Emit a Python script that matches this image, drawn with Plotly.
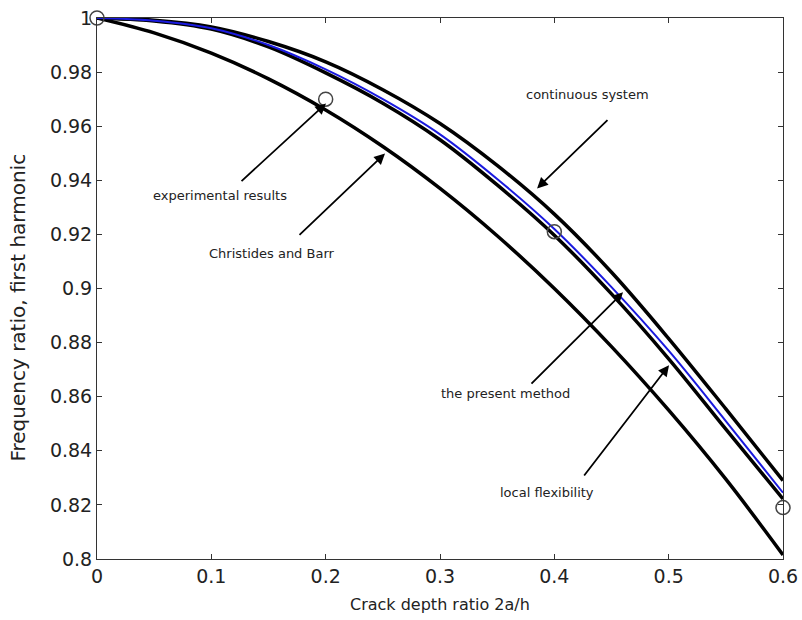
import plotly.graph_objects as go

# ---- data ----
crack_ratio = [0.0, 0.05, 0.1, 0.15, 0.2, 0.25, 0.3, 0.35, 0.4, 0.45, 0.5, 0.55, 0.6]
continuous_system = [1.0, 0.9992, 0.9967, 0.9913, 0.9838, 0.9735, 0.961, 0.9455, 0.9275, 0.906, 0.8815, 0.8555, 0.829]
present_method = [1.0, 0.9990, 0.9962, 0.990, 0.981, 0.970, 0.957, 0.9405, 0.922, 0.9005, 0.877, 0.851, 0.8245]
local_flexibility = [1.0, 0.9989, 0.9959, 0.9893, 0.9797, 0.9685, 0.955, 0.9383, 0.9197, 0.898, 0.874, 0.848, 0.8222]
christides_barr = [1.0, 0.9945, 0.987, 0.9775, 0.966, 0.9525, 0.937, 0.9195, 0.900, 0.8785, 0.855, 0.8295, 0.8015]

exp_x = [0.0, 0.2, 0.4, 0.6]
exp_y = [1.0, 0.970, 0.921, 0.819]

x_tick_vals = [0, 0.1, 0.2, 0.3, 0.4, 0.5, 0.6]
x_tick_text = ["0", "0.1", "0.2", "0.3", "0.4", "0.5", "0.6"]
y_tick_vals = [0.8, 0.82, 0.84, 0.86, 0.88, 0.9, 0.92, 0.94, 0.96, 0.98, 1.0]
y_tick_text = ["0.8", "0.82", "0.84", "0.86", "0.88", "0.9", "0.92", "0.94", "0.96", "0.98", "1"]

x_title = "Crack depth ratio 2a/h"
y_title = "Frequency ratio, first harmonic"

# annotation labels: (text, text x, text y, arrow tail x, tail y, head x, head y)
labels = [
    ("continuous system", 0.4286, 0.9717, 0.4478, 0.9628, 0.3849, 0.9370),
    ("experimental results", 0.1076, 0.9344, 0.1251, 0.9392, 0.2003, 0.9684),
    ("Christides and Barr", 0.1531, 0.9130, 0.1758, 0.9193, 0.2519, 0.9499),
    ("the present method", 0.3569, 0.8613, 0.3787, 0.8643, 0.4601, 0.8986),
    ("local flexibility", 0.3936, 0.8247, 0.4251, 0.8303, 0.5003, 0.8716),
]

FONT = "DejaVu Sans, Liberation Sans, Arial, sans-serif"

fig = go.Figure()
for ys, col, w, name in [
    (christides_barr, "black", 3.5, "Christides and Barr"),
    (local_flexibility, "black", 3.5, "local flexibility"),
    (continuous_system, "black", 3.5, "continuous system"),
    (present_method, "#1a1adf", 2, "the present method"),
]:
    fig.add_trace(go.Scatter(x=crack_ratio, y=ys, mode="lines", name=name,
                             line=dict(color=col, width=w, shape="spline", smoothing=1.0),
                             cliponaxis=False))

fig.add_trace(go.Scatter(x=exp_x, y=exp_y, mode="markers", name="experimental results",
                         marker=dict(symbol="circle-open", size=14, color="#444",
                                     line=dict(width=1.5, color="#444")),
                         cliponaxis=False))

for text, tx, ty, ax0, ay0, hx, hy in labels:
    fig.add_annotation(x=tx, y=ty, text=text, showarrow=False, xref="x", yref="y",
                       font=dict(family=FONT, size=13, color="#222"))
    fig.add_annotation(x=hx, y=hy, ax=ax0, ay=ay0, axref="x", ayref="y", xref="x", yref="y",
                       text="", showarrow=True, arrowhead=2, arrowsize=1.2,
                       arrowwidth=1.8, arrowcolor="black")

# axis titles as paper-anchored text
fig.add_annotation(text=x_title, xref="paper", yref="paper", x=0.5, y=-0.085,
                   xanchor="center", yanchor="middle", showarrow=False,
                   font=dict(family=FONT, size=16, color="#222"))
fig.add_annotation(text=y_title, xref="paper", yref="paper", x=-0.115, y=0.465,
                   xanchor="center", yanchor="middle", showarrow=False, textangle=-90,
                   font=dict(family=FONT, size=20, color="#222"))

axis_common = dict(showgrid=False, zeroline=False, showline=True, linecolor="#333",
                   linewidth=1, mirror="ticks", ticks="inside", ticklen=5, automargin=False,
                   tickcolor="#333", tickfont=dict(family=FONT, size=19, color="#222"))

fig.update_xaxes(range=[0, 0.6], tickvals=x_tick_vals, ticktext=x_tick_text, **axis_common)
fig.update_yaxes(range=[0.8, 1.0], tickvals=y_tick_vals, ticktext=y_tick_text, **axis_common)

fig.update_layout(width=802, height=620, showlegend=False,
                  paper_bgcolor="white", plot_bgcolor="white",
                  margin=dict(l=97, r=19, t=18, b=61, autoexpand=False))

fig.write_html("out.html")
